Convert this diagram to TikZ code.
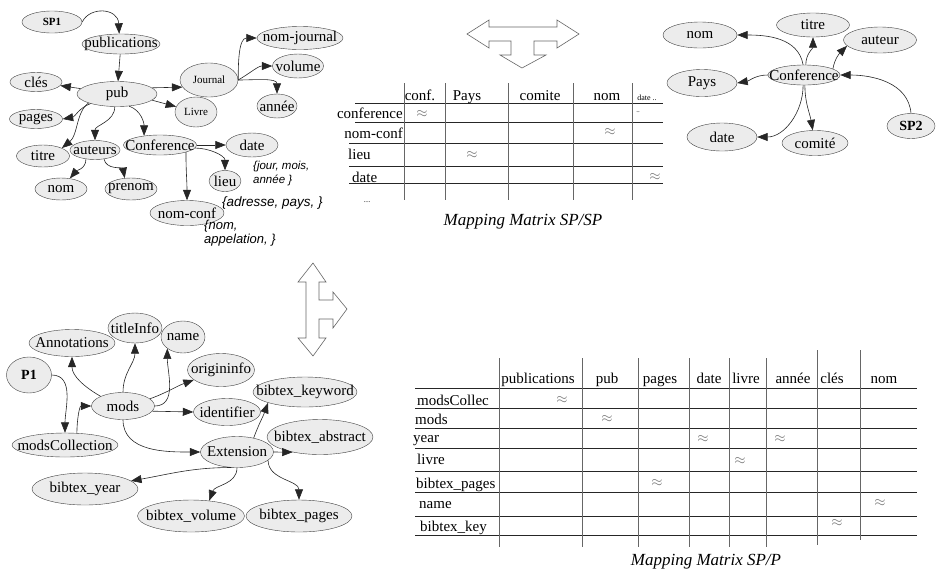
\documentclass[tikz,border=0pt]{standalone}
\usepackage{fontspec}
\setmainfont{Liberation Serif}
\newfontfamily\notefont{Liberation Sans}
\usepackage{tikz}
\usetikzlibrary{shapes.geometric,arrows.meta}

\tikzset{
  ent/.style 2 args={ellipse, draw=black!75, fill=gray!15, inner xsep=-60pt, inner ysep=-4pt, minimum width=#1pt, minimum height=#2pt},
  lien/.style={draw=black!85, line width=0.6pt, -{Triangle[length=10.5pt,width=8pt]}},
  petit/.style={font=\fontsize{11}{13}\selectfont},
  gras/.style={font=\bfseries\fontsize{14}{16}\selectfont},
  note/.style={font=\notefont\itshape\fontsize{#1}{14}\selectfont, anchor=west, align=left, inner sep=0pt},
  cell/.style={inner sep=0pt},
  approx/.style={inner sep=0pt, text=black!55},
  legende/.style={font=\itshape\fontsize{17}{19}\selectfont},
  grille/.style={draw=black!85, line width=0.8pt},
  trait/.style={draw=black!60, line width=1pt},
  fat/.style={draw=black!60, fill=white, line width=0.6pt},
}

\begin{document}
\begin{tikzpicture}[x=1pt, y=1pt, font=\fontsize{15}{17}\selectfont]
\useasboundingbox (0,0) rectangle (936,-571);

% graphe SP1
\node[ent={60}{22}, font=\bfseries\fontsize{11}{13}\selectfont] (sp1) at (52,-22) {SP1};
\node[ent={78}{20}] (publications) at (121,-44) {publications};
\node[ent={80}{25}] (pub) at (117,-94) {pub};
\node[ent={52}{19}] (cles) at (36,-82) {clés};
\node[ent={53}{19}] (pages) at (36,-119) {pages};
\node[ent={58}{34}, petit] (journal) at (209,-80) {Journal};
\node[ent={42}{30}, petit] (livre) at (196,-112) {Livre};
\node[ent={86}{23}] (nomjournal) at (300,-38) {nom-journal};
\node[ent={51}{24}] (volume) at (298,-66) {volume};
\node[ent={40}{24}] (annee) at (277,-106) {année};
\node[ent={53}{22}] (titre) at (43,-156) {titre};
\node[ent={50}{19}] (auteurs) at (95,-150) {auteurs};
\node[ent={73}{20}] (conference) at (160,-145) {Conference};
\node[ent={52}{22}] (nom) at (61,-189) {nom};
\node[ent={52}{22}] (prenom) at (131,-189) {prenom};
\node[ent={74}{25}] (nomconf) at (187,-213) {nom-conf};
\node[ent={52}{24}] (date) at (252,-145) {date};
\node[ent={32}{21}] (lieu) at (225,-181) {lieu};

\draw[lien] (sp1.east) .. controls (90,-6) and (118,-8) .. (publications.100);
\draw[lien] (publications) -- (pub);
\draw[lien] (pub) -- (cles);
\draw[lien] (pub.200) to[out=200,in=10] (pages.east);
\draw[lien] (pub.south west) .. controls (76,-112) and (78,-135) .. (titre.north east);
\draw[lien] (pub.260) to[out=-90,in=90] (auteurs.north);
\draw[lien] (pub.-45) to[out=-20,in=90] (conference.150);
\draw[lien] (pub.10) -- (journal.195);
\draw[lien] (pub.-10) -- (livre.165);
\draw[lien] (journal.east) to[out=90,in=180] (nomjournal.west);
\draw[lien] (journal.east) to[out=30,in=180] (volume.west);
\draw[lien] (journal.east) to[out=0,in=90] (annee.north);
\draw[lien] (auteurs.225) to[out=-90,in=50] (nom.50);
\draw[lien] (auteurs.-45) to[out=-80,in=100] (prenom.120);
\draw[lien] (conference.east) -- (date.west);
\draw[lien] (conference.-5) to[out=0,in=90] (lieu.north);
\draw[lien] (conference.south east) to[out=-90,in=90] (nomconf.north);

\node[note=11.5] (jourmois) at (253,-174) {\{jour, mois,\\année \}};
\node[note=13.5] (adresse) at (222,-203) {\{adresse, pays, \}};
\node[note=13] (appel) at (204,-233) {\{nom,\\appelation, \}};

% graphe SP2
\node[ent={74}{26}] (nom2) at (700,-35) {nom};
\node[ent={73}{24}] (titre2) at (813,-25) {titre};
\node[ent={73}{26}] (auteur2) at (880,-40) {auteur};
\node[ent={70}{27}] (pays2) at (702,-83) {Pays};
\node[ent={72}{20}] (conf2) at (804,-75) {Conference};
\node[ent={70}{28}] (date2) at (722,-137) {date};
\node[ent={66}{25}] (comite2) at (815,-143) {comité};
\node[ent={48}{25}, gras] (sp2) at (911,-126) {SP2};

\draw[lien] (conf2.95) to[out=100,in=0] (nom2.east);
\draw[lien] (conf2.80) to[out=90,in=-90] (titre2.south);
\draw[lien] (conf2.12) to[out=80,in=-135] (auteur2.190);
\draw[lien] (conf2.west) to[out=180,in=10] (pays2.east);
\draw[lien] (conf2.265) to[out=-90,in=0] (date2.east);
\draw[lien] (conf2.275) to[out=-90,in=100] (comite2.100);
\draw[lien] (sp2.north) to[out=95,in=0] (conf2.east);

% graphe P1
\node[ent={86}{27}] (annot) at (72,-343) {Annotations};
\node[ent={54}{30}] (titleinfo) at (135,-328) {titleInfo};
\node[ent={44}{32}] (name) at (183,-337) {name};
\node[ent={45}{36}, gras] (p1) at (29,-375) {P1};
\node[ent={63}{27}] (mods) at (123,-406) {mods};
\node[ent={67}{33}] (origin) at (221,-370) {origininfo};
\node[ent={104}{30}] (keyword) at (305,-392) {bibtex\_keyword};
\node[ent={67}{27}] (ident) at (227,-412) {identifier};
\node[ent={106}{24}] (modscoll) at (65,-445) {modsCollection};
\node[ent={73}{31}] (ext) at (237,-452) {Extension};
\node[ent={106}{35}] (abstract) at (320,-437) {bibtex\_abstract};
\node[ent={106}{32}] (year) at (85,-489) {bibtex\_year};
\node[ent={107}{32}] (volume2) at (191,-516) {bibtex\_volume};
\node[ent={106}{32}] (bpages) at (299,-516) {bibtex\_pages};

\draw[lien] (p1.east) to[out=0,in=90] (modscoll.north);
\draw[lien] (modscoll.45) to[out=90,in=180] (mods.west);
\draw[lien] (mods.north west) to[out=150,in=-90] (annot.south);
\draw[lien] (mods.north) to[out=90,in=-90] (titleinfo.south);
\draw[lien] (mods.east) to[out=0,in=-90] (name.south west);
\draw[lien] (mods.15) to[out=20,in=200] (origin.200);
\draw[lien] (mods.-10) -- (ident.west);
\draw[lien] (mods.south) to[out=-90,in=180] (ext.west);
\draw[lien] (ext.40) to[out=70,in=-110] (keyword.south west);
\draw[lien] (ext.east) -- (abstract.209);
\draw[lien] (ext.250) to[out=180,in=10] (year.10);
\draw[lien] (ext.south) to[out=-90,in=70] (volume2.40);
\draw[lien] (ext.-15) to[out=-90,in=90] (bpages.north);

% fleches doubles
\draw[fat] (467,-34) -- (489,-20) -- (489,-27) -- (557,-27) -- (557,-20) -- (579,-34) -- (557,-48) -- (557,-41) -- (534,-41) -- (534,-55) -- (546,-55) -- (522,-68) -- (500,-55) -- (511,-55) -- (511,-41) -- (489,-41) -- (489,-48) -- cycle;
\draw[fat] (313,-263) -- (326,-282) -- (319,-282) -- (319,-300) -- (333,-300) -- (333,-292) -- (347,-309) -- (333,-328) -- (333,-319) -- (319,-319) -- (319,-338) -- (326,-338) -- (313,-356) -- (298,-338) -- (306,-338) -- (306,-282) -- (298,-282) -- cycle;

% matrice SP/SP
\foreach \y/\xa in {103/355,122/355,143/349,166/349,183/349}
  \draw[grille] (\xa,-\y) -- (663,-\y);
\foreach \x in {404,445,508,573,632}
  \draw[trait] (\x,-83) -- (\x,-200);
\foreach \t/\x [count=\i] in {conf./420,Pays/467,comite/540,nom/607}
  \node[cell, anchor=base] (hA\i) at (\x,-100) {\t};
\node[cell, anchor=base, font=\fontsize{8}{9}\selectfont] (hA5) at (647,-100) {date ..};
\node[cell, anchor=base east] (rA1) at (403,-118) {conference};
\node[cell, anchor=base east] (rA2) at (403,-138) {nom-conf};
\node[cell, anchor=base west] (rA3) at (348,-159) {lieu};
\node[cell, anchor=base west] (rA4) at (352,-182) {date};
\node[cell, font=\fontsize{7}{8}\selectfont] (rA5) at (367,-202) {....};
\foreach \x/\y [count=\i] in {422/114,610/132,472/155,655/177}
  \node[approx] (aA\i) at (\x,-\y) {$\approx$};
\node[cell, font=\fontsize{7}{8}\selectfont] (aA5) at (638,-112) {..};
\node[legende] (capA) at (523,-222) {Mapping Matrix SP/SP};

% matrice SP/P
\foreach \y in {388,408,428,448,471,492,516,535}
  \draw[grille] (415,-\y) -- (917,-\y);
\foreach \x in {499,582,638,689,729,766}
  \draw[trait] (\x,-358) -- (\x,-547);
\draw[trait] (817,-350) -- (817,-545);
\draw[trait] (860,-350) -- (860,-540);
\foreach \t/\x [count=\i] in {publications/538,pub/607,pages/660,date/709,livre/746,année/793,clés/832,nom/884}
  \node[cell, anchor=base] (hB\i) at (\x,-383) {\t};
\foreach \t/\x/\y [count=\i] in {modsCollec/417/405,mods/415/424,year/413/442,livre/417/464,bibtex\_pages/416/488,name/419/508,bibtex\_key/420/531}
  \node[cell, anchor=base west] (rB\i) at (\x,-\y) {\t};
\foreach \x/\y [count=\i] in {562/400,607/419,703/439,780/439,740/461,657/483,880/503,837/523}
  \node[approx] (aB\i) at (\x,-\y) {$\approx$};
\node[legende] (capB) at (706,-562) {Mapping Matrix SP/P};
\end{tikzpicture}
\end{document}
